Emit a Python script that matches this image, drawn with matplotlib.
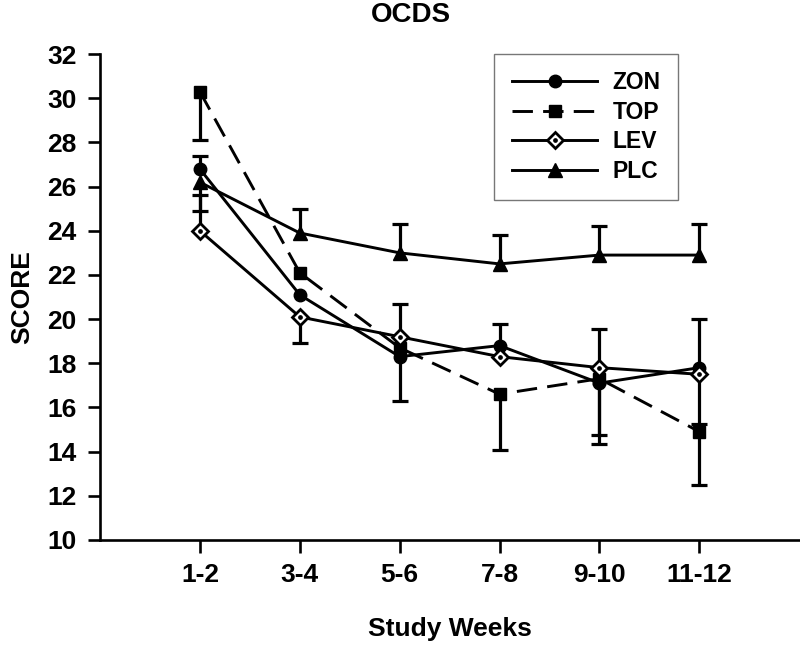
import numpy as np
import matplotlib
matplotlib.use('Agg')
import matplotlib.pyplot as plt
from matplotlib.legend_handler import HandlerTuple

weeks = ['1-2', '3-4', '5-6', '7-8', '9-10', '11-12']

zon = [26.8, 21.1, 18.3, 18.8, 17.1, 17.8]
top = [30.3, 22.1, 18.7, 16.6, 17.3, 14.9]
lev = [24.0, 20.1, 19.2, 18.3, 17.8, 17.5]
plc = [26.2, 23.9, 23.0, 22.5, 22.9, 22.9]

# one-sided error bars (nan = none drawn)
nan = np.nan
zon_lo = [nan, nan, nan, nan, 2.35, nan]
zon_up = [0.6, nan, 2.4, 1.0, nan, 2.2]
top_lo = [2.2, nan, 2.4, 2.55, 2.95, 2.4]
top_up = [nan, nan, nan, nan, nan, nan]
lev_lo = [nan, 1.2, nan, nan, nan, 2.25]
lev_up = [1.6, nan, nan, nan, 1.75, nan]
plc_lo = [1.3, nan, nan, nan, nan, nan]
plc_up = [nan, 1.1, 1.3, 1.3, 1.3, 1.4]

plt.rcParams['font.family'] = ['Liberation Sans', 'DejaVu Sans']
plt.rcParams['font.weight'] = 'bold'

fig = plt.figure(figsize=(8, 6.45), dpi=100)
ax = fig.add_axes([0.125, 0.163, 0.874, 0.753])

x = np.arange(1, len(weeks) + 1)
lw = 2.1


def err_bars(vals, lo, up):
    vals = np.array(vals)
    for e, sign in ((np.array(lo), -1), (np.array(up), 1)):
        m = ~np.isnan(e)
        ends = vals[m] + sign * e[m]
        ax.vlines(x[m], vals[m], ends, color='k', lw=2.3, zorder=2)
        ax.plot(x[m], ends, ls='none', marker='_', ms=12, mew=2.3, color='k', zorder=2)


err_bars(zon, zon_lo, zon_up)
err_bars(top, top_lo, top_up)
err_bars(lev, lev_lo, lev_up)
err_bars(plc, plc_lo, plc_up)

h_zon, = ax.plot(x, zon, '-', marker='o', color='k', lw=lw, ms=9, zorder=4)
h_top, = ax.plot(x, top, color='k', lw=lw, marker='s', ms=9, zorder=4,
                 dashes=(7, 3.5))
h_lev, = ax.plot(x, lev, '-', marker='D', color='k', lw=lw, ms=8, mfc='white',
                 mec='k', mew=2.0, zorder=5)
h_dot, = ax.plot(x, lev, ls='none', marker='o', ms=2.4, color='k', zorder=6)
h_plc, = ax.plot(x, plc, '-', marker='^', color='k', lw=lw, ms=9.5, zorder=4)

ax.set_xlim(0, 7)
ax.set_ylim(10, 32)
ax.set_xticks(x)
ax.set_xticklabels(weeks)
ax.set_yticks(np.arange(10, 33, 2))

for s in ('top', 'right'):
    ax.spines[s].set_visible(False)
for s in ('left', 'bottom'):
    ax.spines[s].set_linewidth(1.9)
ax.tick_params(direction='out', length=9, width=1.9, labelsize=19, pad=8)

ax.set_xlabel('Study Weeks', fontsize=19, fontweight='bold', labelpad=21)
ax.set_ylabel('SCORE', fontsize=19, fontweight='bold', labelpad=9)
fig.text(0.514, 0.976, 'OCDS', ha='center', va='center', fontsize=20, fontweight='bold')

leg = ax.legend([h_zon, h_top, (h_lev, h_dot), h_plc], ['ZON', 'TOP', 'LEV', 'PLC'],
                handler_map={tuple: HandlerTuple(ndivide=1)},
                loc='upper left', bbox_to_anchor=(0.564, 1.0), fontsize=16.5,
                handlelength=3.75, handletextpad=0.65, labelspacing=0.28,
                fancybox=False, borderpad=0.75, borderaxespad=0)
leg.get_frame().set_edgecolor('#555555')
leg.get_frame().set_linewidth(1.0)

fig.savefig('out.png', dpi=100)
